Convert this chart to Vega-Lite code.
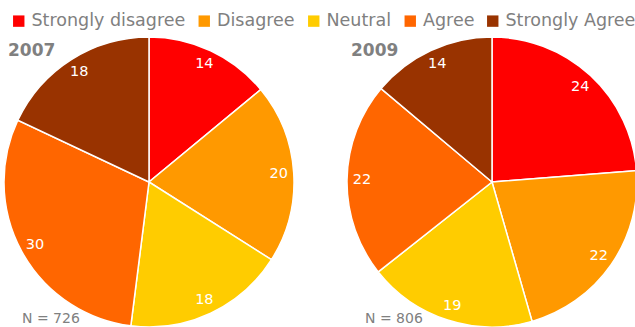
{
  "$schema": "https://vega.github.io/schema/vega-lite/v6.json",
  "width": 635,
  "height": 364,
  "autosize": "none",
  "padding": 0,
  "background": "white",
  "config": {"view": {"stroke": null}},
  "data": {
    "values": [
      {"year": "2007", "category": "Strongly disagree", "rank": 1, "value": 14},
      {"year": "2007", "category": "Disagree", "rank": 2, "value": 20},
      {"year": "2007", "category": "Neutral", "rank": 3, "value": 18},
      {"year": "2007", "category": "Agree", "rank": 4, "value": 30},
      {"year": "2007", "category": "Strongly Agree", "rank": 5, "value": 18},
      {"year": "2009", "category": "Strongly disagree", "rank": 1, "value": 24},
      {"year": "2009", "category": "Disagree", "rank": 2, "value": 22},
      {"year": "2009", "category": "Neutral", "rank": 3, "value": 19},
      {"year": "2009", "category": "Agree", "rank": 4, "value": 22},
      {"year": "2009", "category": "Strongly Agree", "rank": 5, "value": 14}
    ]
  },
  "transform": [
    {"stack": "value", "groupby": ["year"], "sort": [{"field": "rank"}], "offset": "normalize", "as": ["t0", "t1"]},
    {"calculate": "(datum.t0 + datum.t1) / 2", "as": "tm"}
  ],
  "encoding": {
    "x": {"field": "year", "type": "nominal", "scale": {"type": "point", "range": [149, 492], "padding": 0}, "axis": null}
  },
  "layer": [
    {
      "mark": {"type": "arc", "outerRadius": 145, "stroke": "white", "strokeWidth": 1.5},
      "encoding": {
        "theta": {"field": "t0", "type": "quantitative", "scale": {"domain": [0, 1], "range": [0, 6.283185307]}},
        "theta2": {"field": "t1"},
        "color": {
          "field": "category",
          "type": "nominal",
          "scale": {
            "domain": ["Strongly disagree", "Disagree", "Neutral", "Agree", "Strongly Agree"],
            "range": ["#FF0000", "#FF9900", "#FFCC00", "#FF6600", "#993300"]
          },
          "legend": {
            "title": null,
            "orient": "none",
            "legendX": 10,
            "legendY": 12,
            "direction": "horizontal",
            "symbolType": "square",
            "symbolSize": 130,
            "symbolStrokeWidth": 0,
            "symbolOpacity": 1,
            "labelFont": "DejaVu Sans",
            "labelFontSize": 17.5,
            "labelColor": "#808080",
            "labelOffset": 4,
            "columnPadding": 9.5,
            "labelLimit": 300
          }
        }
      }
    },
    {
      "mark": {"type": "text", "radius": 130, "font": "DejaVu Sans", "fontSize": 14.5, "fill": "white", "align": "center", "baseline": "middle"},
      "encoding": {
        "theta": {"field": "tm", "type": "quantitative", "stack": null},
        "text": {"field": "value", "type": "quantitative"}
      }
    },
    {
      "transform": [{"filter": "datum.rank == 1"}],
      "mark": {"type": "text", "font": "DejaVu Sans", "fontSize": 17, "fontWeight": "bold", "fill": "#808080", "align": "left", "baseline": "middle", "dx": -141, "dy": -131},
      "encoding": {
        "text": {"field": "year", "type": "nominal"}
      }
    },
    {
      "data": {"values": [{"year": "2007", "n": "N = 726"}, {"year": "2009", "n": "N = 806"}]},
      "mark": {"type": "text", "font": "DejaVu Sans", "fontSize": 14, "fill": "#808080", "align": "left", "baseline": "middle", "dx": -127, "dy": 137},
      "encoding": {
        "text": {"field": "n", "type": "nominal"}
      }
    }
  ]
}
